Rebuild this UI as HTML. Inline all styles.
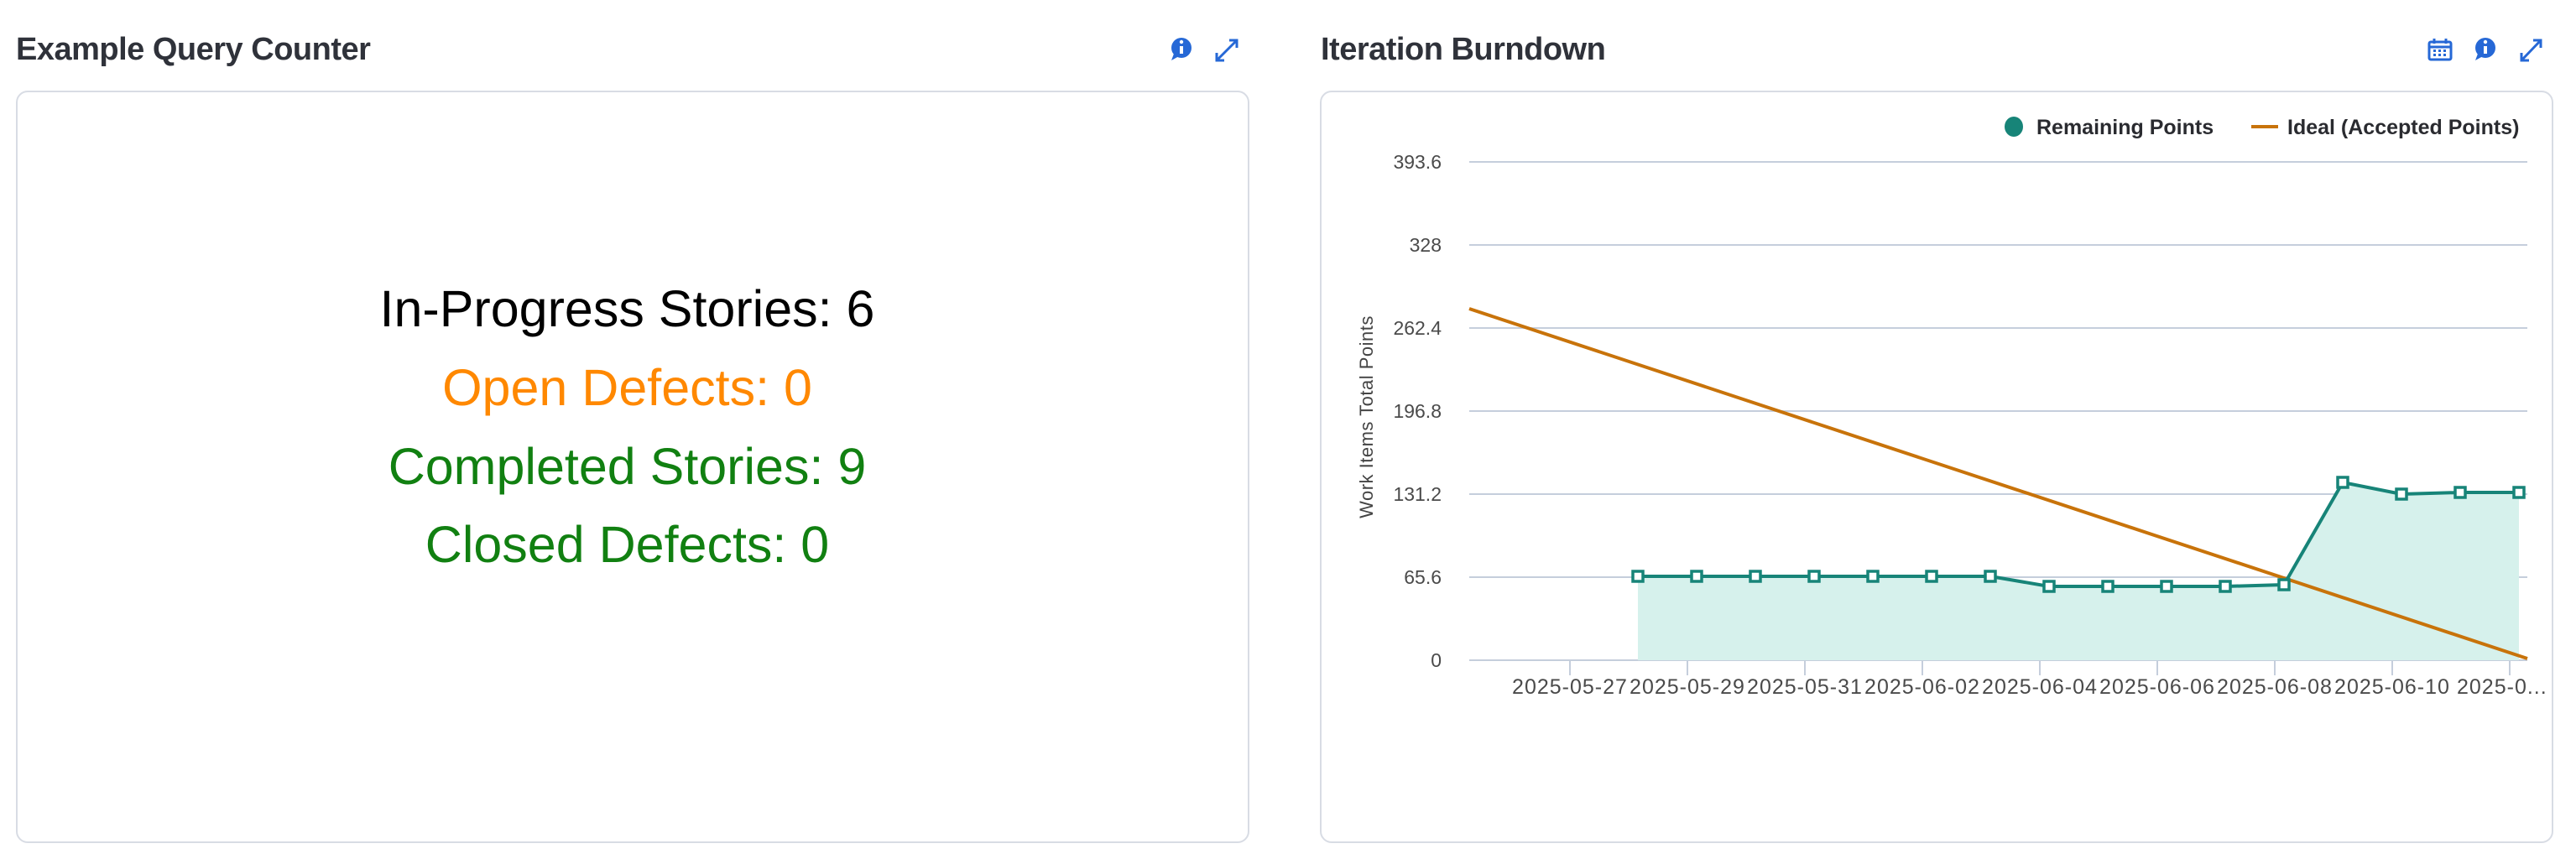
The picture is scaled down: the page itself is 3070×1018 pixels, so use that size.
<!DOCTYPE html>
<html><head><meta charset="utf-8"><style>
html,body{margin:0;padding:0;background:#fff;width:3070px;height:1018px;overflow:hidden;font-family:"Liberation Sans",sans-serif}
.t{position:absolute;font-weight:bold;font-size:38px;color:#2f323a;top:38px;letter-spacing:-0.5px}
.box{position:absolute;border:2px solid #d8dce4;border-radius:14px;background:#fff}
.c{position:absolute;left:19px;width:1457px;text-align:center;font-size:61px;line-height:1}
</style></head><body>
<div class="t" style="left:19px">Example Query Counter</div>
<div class="t" style="left:1574px">Iteration Burndown</div>
<div class="box" style="left:19px;top:108px;width:1466px;height:893px"></div>
<div class="box" style="left:1573px;top:108px;width:1466px;height:893px"></div>
<div class="c" style="top:338px;color:#000">In-Progress Stories: 6</div>
<div class="c" style="top:432px;color:#ff8800">Open Defects: 0</div>
<div class="c" style="top:526px;color:#118011">Completed Stories: 9</div>
<div class="c" style="top:619px;color:#118011">Closed Defects: 0</div>
<svg width="3070" height="1018" style="position:absolute;left:0;top:0" font-family="Liberation Sans, sans-serif">
<g fill="#2668d6" stroke="#2668d6">
<circle cx="1408" cy="57" r="12" stroke="none"/><path d="M1399 64 L1396 72 L1405 67Z" stroke="none"/>
<path d="M1450 72 L1474 48 M1465 48 L1474 48 L1474 57 M1450 63 L1450 72 L1459 72" stroke-width="3" fill="none"/>
<circle cx="2962" cy="57" r="12" stroke="none"/><path d="M2953 64 L2950 72 L2959 67Z" stroke="none"/>
<path d="M3005 72 L3028 48 M3019 48 L3028 48 L3028 57 M3005 63 L3005 72 L3014 72" stroke-width="3" fill="none"/>
<rect x="2895" y="50" width="26" height="21" rx="2" fill="none" stroke-width="3"/>
<path d="M2895 56 H2921 M2901 46 V52 M2915 46 V52" stroke-width="3"/>
</g>
<g fill="#fff"><rect x="1406" y="55" width="4" height="9"/><circle cx="1408" cy="50" r="2.2"/><rect x="2960" y="55" width="4" height="9"/><circle cx="2962" cy="50" r="2.2"/></g>
<g fill="#2668d6"><rect x="2900" y="59" width="3" height="3"/><rect x="2906" y="59" width="3" height="3"/><rect x="2912" y="59" width="3" height="3"/><rect x="2900" y="64" width="3" height="3"/><rect x="2906" y="64" width="3" height="3"/><rect x="2912" y="64" width="3" height="3"/></g>
<ellipse cx="2400" cy="151" rx="11" ry="12" fill="#178478"/>
<text x="2427" y="160" font-size="25" font-weight="bold" fill="#2a2b30">Remaining Points</text>
<rect x="2683" y="149" width="32" height="4" fill="#c8730a"/>
<text x="2726" y="160" font-size="25" font-weight="bold" fill="#2a2b30">Ideal (Accepted Points)</text>
<g stroke="#c5cedc" stroke-width="2">
<line x1="1751" x2="3012" y1="193" y2="193"/><line x1="1751" x2="3012" y1="292" y2="292"/><line x1="1751" x2="3012" y1="391" y2="391"/><line x1="1751" x2="3012" y1="490" y2="490"/><line x1="1751" x2="3012" y1="589" y2="589"/><line x1="1751" x2="3012" y1="688" y2="688"/><line x1="1751" x2="3012" y1="787" y2="787"/>
<path d="M1871 787v18M2011 787v18M2151 787v18M2291 787v18M2431 787v18M2571 787v18M2711 787v18M2851 787v18M2991 787v18"/>
</g>
<g font-size="23" fill="#4a4a4a" text-anchor="end">
<text x="1718" y="201">393.6</text><text x="1718" y="300">328</text><text x="1718" y="399">262.4</text><text x="1718" y="498">196.8</text><text x="1718" y="597">131.2</text><text x="1718" y="696">65.6</text><text x="1718" y="795">0</text>
</g>
<g font-size="25" fill="#4a4a4a" text-anchor="middle" letter-spacing="1">
<text x="1871" y="827">2025-05-27</text><text x="2011" y="827">2025-05-29</text><text x="2151" y="827">2025-05-31</text><text x="2291" y="827">2025-06-02</text><text x="2431" y="827">2025-06-04</text><text x="2571" y="827">2025-06-06</text><text x="2711" y="827">2025-06-08</text><text x="2851" y="827">2025-06-10</text><text x="2928" y="827" text-anchor="start">2025-0...</text>
</g>
<text transform="translate(1636,497) rotate(-90)" font-size="22" fill="#444" text-anchor="middle" letter-spacing="0.5">Work Items Total Points</text>
<path d="M1952 687 L2022 687 L2092 687 L2162 687 L2232 687 L2302 687 L2372 687 L2442 699 L2512 699 L2582 699 L2652 699 L2722 697 L2792 575 L2862 589 L2932 587 L3002 587 L3002 787 L1952 787Z" fill="#d6f1ec"/>
<line x1="1751" y1="368" x2="3012" y2="785" stroke="#c8730a" stroke-width="4"/>
<polyline points="1952,687 2022,687 2092,687 2162,687 2232,687 2302,687 2372,687 2442,699 2512,699 2582,699 2652,699 2722,697 2792,575 2862,589 2932,587 3002,587" fill="none" stroke="#178478" stroke-width="4"/>
<g fill="#fff" stroke="#178478" stroke-width="3.5">
<rect x="1946" y="681" width="12" height="12"/><rect x="2016" y="681" width="12" height="12"/><rect x="2086" y="681" width="12" height="12"/><rect x="2156" y="681" width="12" height="12"/><rect x="2226" y="681" width="12" height="12"/><rect x="2296" y="681" width="12" height="12"/><rect x="2366" y="681" width="12" height="12"/><rect x="2436" y="693" width="12" height="12"/><rect x="2506" y="693" width="12" height="12"/><rect x="2576" y="693" width="12" height="12"/><rect x="2646" y="693" width="12" height="12"/><rect x="2716" y="691" width="12" height="12"/><rect x="2786" y="569" width="12" height="12"/><rect x="2856" y="583" width="12" height="12"/><rect x="2926" y="581" width="12" height="12"/><rect x="2996" y="581" width="12" height="12"/>
</g>
</svg>
</body></html>
